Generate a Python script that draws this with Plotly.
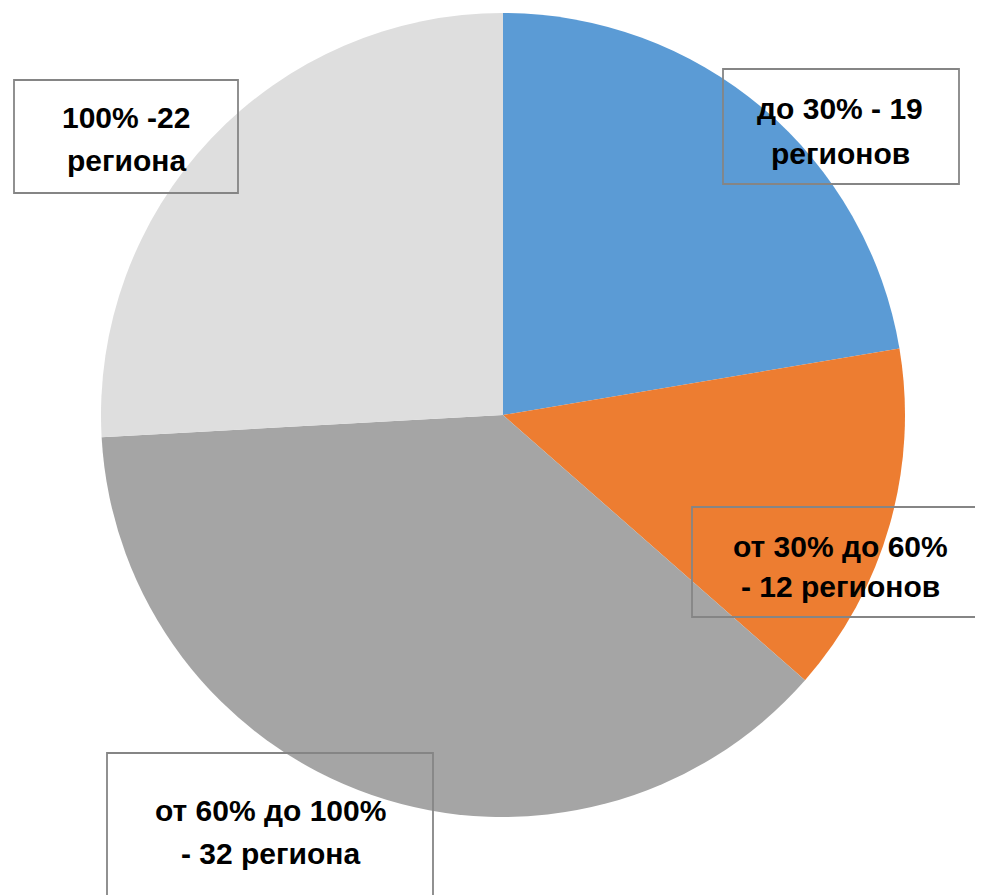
import plotly.graph_objects as go

categories = ["до 30%", "от 30% до 60%", "от 60% до 100%", "100%"]
values = [19, 12, 32, 22]
colors = ["#5B9BD5", "#ED7D31", "#A5A5A5", "#DEDEDE"]
label_lines = [
    ["до 30% - 19", "регионов"],
    ["от 30% до 60%", "- 12 регионов"],
    ["от 60% до 100%", "- 32 региона"],
    ["100% -22", "региона"],
]

# the page body has an 8px margin; size the figure to fill the window exactly
OFF = 8
W, H = 983 - OFF, 895 - OFF
cx, cy, r = 503 - OFF, 415 - OFF, 402

fig = go.Figure(go.Pie(
    labels=categories,
    values=values,
    sort=False,
    direction="clockwise",
    rotation=0,
    marker=dict(colors=colors, line=dict(width=0)),
    textinfo="none",
    hoverinfo="label+value",
    domain=dict(x=[(cx - r) / W, (cx + r) / W], y=[1 - (cy + r) / H, 1 - (cy - r) / H]),
    showlegend=False,
))

# label boxes (window pixel coordinates: x0, y0, x1, y1) and text centres
boxes = [
    (723, 69, 959, 184, 840, [108, 153]),
    (692, 507, 990, 617, 840, [546, 586]),
    (107, 753, 433, 905, 270, [810, 853]),
    (14, 80, 238, 193, 126, [118, 160]),
]

shapes = []
annotations = []
for (x0, y0, x1, y1, tx, tys), lines in zip(boxes, label_lines):
    x0, x1, y0, y1, tx = x0 - OFF, x1 - OFF, y0 - OFF, y1 - OFF, tx - OFF
    shapes.append(dict(type="rect", xref="paper", yref="paper",
                       x0=x0 / W, x1=x1 / W, y0=1 - y1 / H, y1=1 - y0 / H,
                       line=dict(color="#858585", width=1.8), fillcolor="rgba(0,0,0,0)"))
    for line, ty in zip(lines, tys):
        ty = ty - OFF
        annotations.append(dict(x=tx / W, y=1 - ty / H, xref="paper", yref="paper",
                                text="<b>" + line + "</b>", showarrow=False,
                                xanchor="center", yanchor="middle",
                                font=dict(family="Liberation Sans, Arial",
                                          size=30, color="#000000")))

fig.update_layout(
    width=W, height=H,
    margin=dict(l=0, r=0, t=0, b=0),
    paper_bgcolor="white",
    plot_bgcolor="white",
    shapes=shapes,
    annotations=annotations,
)

fig.write_html("out.html")
